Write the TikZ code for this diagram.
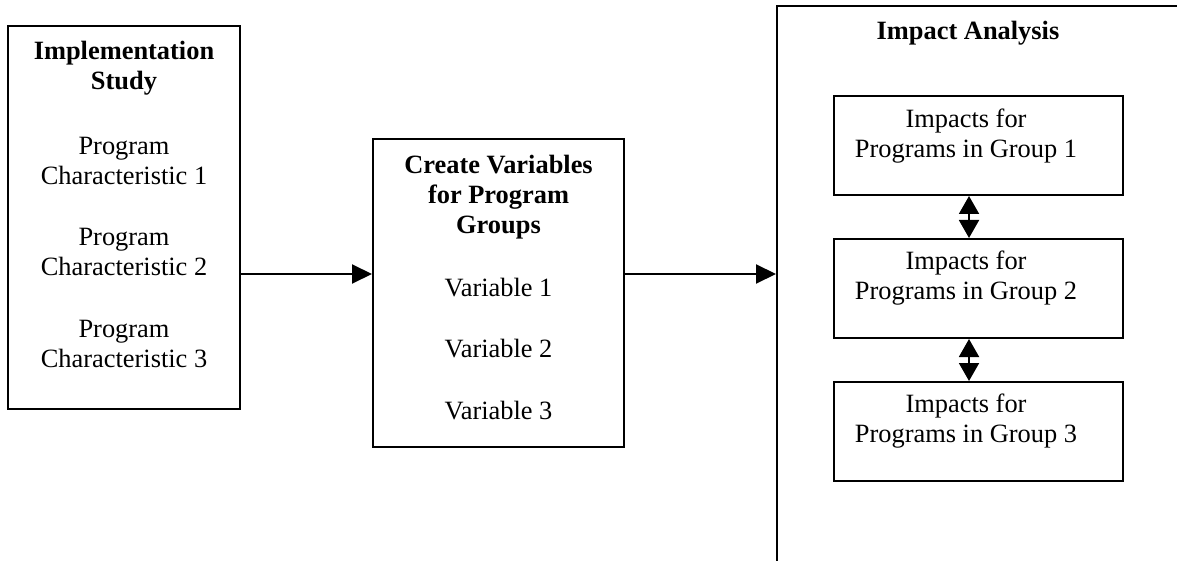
\documentclass[tikz,border=0pt]{standalone}
\usepackage{fontspec}
\setmainfont{Liberation Serif}
\usetikzlibrary{arrows.meta}

\tikzset{
  box/.style={draw, line width=1pt, inner sep=0pt},
  label/.style={align=center, inner sep=0.75pt, font=\fontsize{13.2pt}{15pt}\selectfont},
  head/.style={label, font=\fontsize{13.2pt}{15pt}\selectfont\bfseries},
  flow/.style={line width=1pt, -{Triangle[length=10pt,width=9.5pt]}},
  link/.style={line width=1pt, {Triangle[length=9pt,width=10pt]}-{Triangle[length=9pt,width=10pt]}}
}

\begin{document}
\begin{tikzpicture}[x=0.5pt,y=0.5pt,yscale=-1,xscale=1]
    \clip (0,0) rectangle (1177,561);

    %Shape: Rectangle [id:study]
    \node (study) [box, minimum width=116pt, minimum height=191.5pt] at (124,217.5) {};
    %Shape: Rectangle [id:vars]
    \node (vars) [box, minimum width=125.5pt, minimum height=154pt] at (498.5,293) {};
    %Shape: Rectangle [id:impact] (runs off the page)
    \node (impact) [box, minimum width=211.5pt, minimum height=297pt] at (988.5,303) {};
    %Shape: Rectangle [id:g1..g3]
    \node (g1) [box, minimum width=144.5pt, minimum height=49.5pt] at (978.5,145.5) {};
    \node (g2) [box, minimum width=144.5pt, minimum height=49.5pt] at (978.5,288.5) {};
    \node (g3) [box, minimum width=144.5pt, minimum height=49.5pt] at (978.5,431.5) {};

    \coordinate (main) at (0,274);
    \coordinate (mid) at (969,0);

    %Straight Lines
    \draw [flow] (study.east |- main) -- (vars.west |- main);
    \draw [flow] (vars.east |- main) -- (impact.west |- main);
    \draw [link] (g1.south -| mid) -- (g2.north -| mid);
    \draw [link] (g2.south -| mid) -- (g3.north -| mid);

    % Text Node
    \node (studyhead) [head] at (124,68) {Implementation\\Study};
    % Text Node
    \node (char1) [label] at (124,160.5) {Program\\Characteristic 1};
    % Text Node
    \node (char2) [label] at (124,252) {Program\\Characteristic 2};
    % Text Node
    \node (char3) [label] at (124,344) {Program\\Characteristic 3};

    % Text Node
    \node (varshead) [head] at (498.5,197.5) {Create Variables\\for Program\\Groups};
    % Text Node
    \node (var1) [label] at (498.5,288) {Variable 1};
    % Text Node
    \node (var2) [label] at (498.5,349) {Variable 2};
    % Text Node
    \node (var3) [label] at (498.5,411) {Variable 3};

    % Text Node
    \node (impacthead) [head] at (968,33) {Impact Analysis};
    % Text Node
    \node (grp1) [label] at (966,136) {Impacts for\\Programs in Group 1};
    % Text Node
    \node (grp2) [label] at (966,278) {Impacts for\\Programs in Group 2};
    % Text Node
    \node (grp3) [label] at (966,421) {Impacts for\\Programs in Group 3};
\end{tikzpicture}
\end{document}
